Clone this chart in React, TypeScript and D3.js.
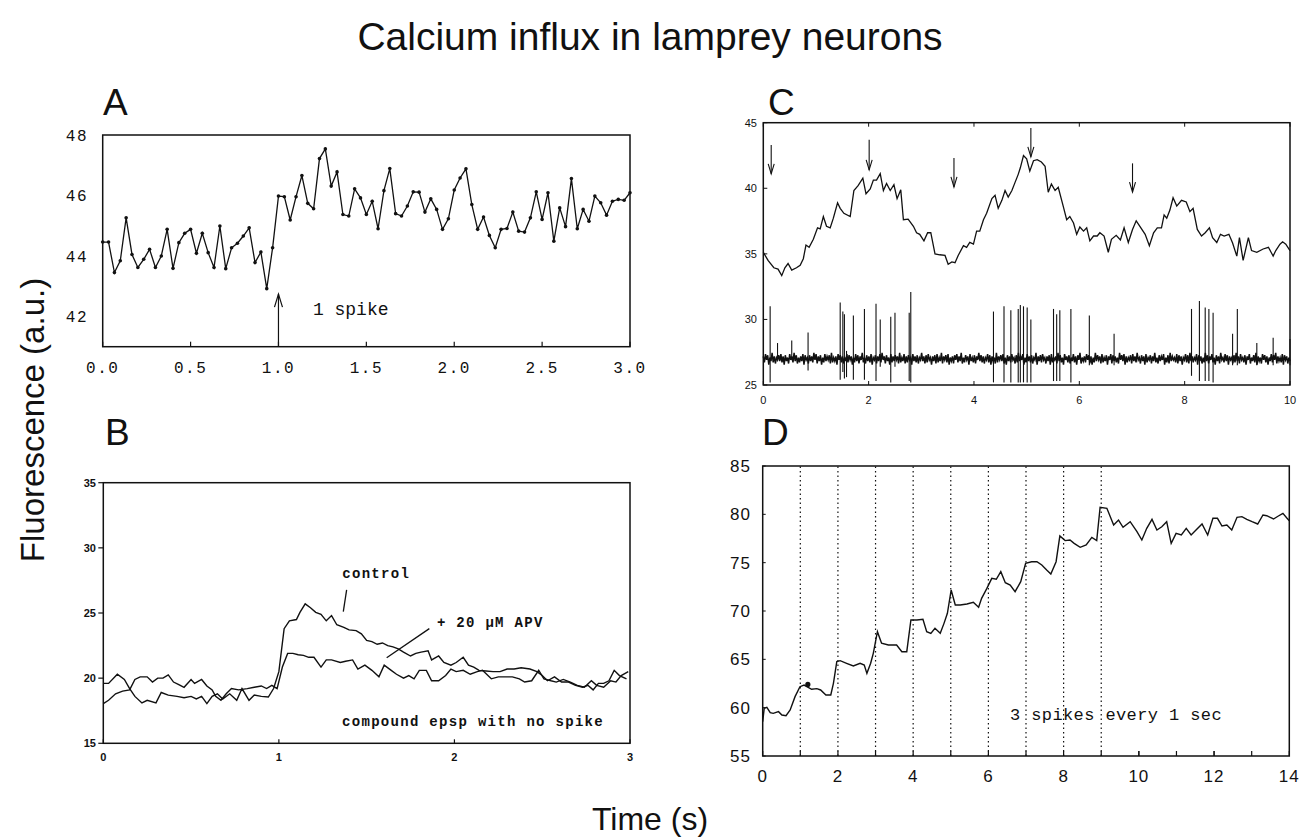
import React from 'react'
import * as d3 from 'd3'

// panel A: one spike, sampled at 30 Hz
const aValues = [44.46, 44.46, 43.45, 43.84, 45.26, 44.05, 43.62, 43.89, 44.22, 43.62,
  44.0, 44.88, 43.59, 44.44, 44.75, 44.88, 44.09, 44.75, 44.11, 43.62,
  44.99, 43.58, 44.27, 44.42, 44.66, 44.93, 43.78, 44.13, 42.92, 44.27,
  45.98, 45.96, 45.19, 45.96, 46.66, 45.74, 45.56, 47.22, 47.54, 46.31,
  46.78, 45.37, 45.32, 46.22, 45.92, 45.37, 45.81, 44.90, 46.16, 46.89,
  45.40, 45.32, 45.65, 46.12, 46.11, 45.45, 45.89, 45.54, 44.88, 45.23,
  46.18, 46.58, 46.88, 45.70, 44.88, 45.29, 44.68, 44.27, 44.88, 44.91,
  45.45, 44.82, 44.79, 45.26, 46.12, 45.21, 46.09, 44.49, 45.59, 44.97,
  46.56, 44.90, 45.54, 45.15, 45.98, 45.76, 45.35, 45.81, 45.87, 45.84, 46.09]
const aRate = 30
const aTicksX = [0, 0.5, 1, 1.5, 2, 2.5, 3]
const aTicksY = [42, 44, 46, 48]
const aSpikeTime = 1.0

// panel B: control vs + APV  [time, value]
const bControl = [[0, 19.6], [0.03, 19.6], [0.08, 20.3], [0.12, 19.9], [0.15, 19.2], [0.18, 18.6],
  [0.22, 18.1], [0.25, 18.3], [0.30, 18.1], [0.33, 18.9], [0.37, 18.7], [0.42, 18.6], [0.46, 18.5],
  [0.50, 18.6], [0.53, 18.4], [0.56, 18.6], [0.59, 18.05], [0.62, 18.6], [0.65, 18.8], [0.68, 18.4],
  [0.72, 18.8], [0.76, 18.3], [0.79, 19.2], [0.83, 18.3], [0.86, 18.7], [0.90, 18.6], [0.94, 18.55],
  [0.97, 19.2], [1.00, 20.5], [1.03, 23.8], [1.06, 24.4], [1.10, 24.5], [1.12, 25.05], [1.15, 25.7],
  [1.18, 25.4], [1.21, 25.05], [1.24, 24.9], [1.27, 24.4], [1.30, 24.8], [1.33, 24.1], [1.37, 23.9],
  [1.40, 23.7], [1.44, 23.65], [1.47, 23.4], [1.50, 22.9], [1.53, 22.8], [1.56, 22.6], [1.59, 22.7],
  [1.62, 22.5], [1.65, 22.4], [1.68, 22.25], [1.71, 22.0], [1.75, 21.7], [1.78, 21.9], [1.81, 22.0],
  [1.85, 22.1], [1.87, 21.4], [1.91, 21.7], [1.94, 21.2], [1.98, 21.0], [2.01, 21.2], [2.05, 21.6],
  [2.08, 21.0], [2.11, 20.85], [2.14, 20.6], [2.18, 20.55], [2.22, 20.5], [2.26, 20.5], [2.30, 20.7],
  [2.34, 20.7], [2.38, 20.8], [2.43, 20.7], [2.47, 20.5], [2.50, 20.2], [2.53, 19.8], [2.57, 20.1],
  [2.61, 19.7], [2.65, 19.7], [2.69, 19.45], [2.73, 19.3], [2.76, 19.45], [2.79, 19.1], [2.82, 19.6],
  [2.85, 19.6], [2.88, 19.8], [2.91, 20.6], [2.94, 20.2], [2.98, 19.95]]
const bApv = [[0, 18.05], [0.03, 18.3], [0.07, 18.8], [0.11, 19.0], [0.15, 19.1], [0.18, 19.9],
  [0.21, 20.1], [0.25, 20.1], [0.28, 19.7], [0.31, 20.0], [0.34, 20.0], [0.37, 20.25], [0.40, 19.7],
  [0.43, 19.5], [0.46, 19.3], [0.50, 19.9], [0.52, 19.6], [0.56, 19.9], [0.59, 19.4], [0.62, 19.1],
  [0.64, 18.6], [0.67, 18.3], [0.70, 18.8], [0.73, 19.2], [0.77, 19.1], [0.82, 19.2], [0.86, 19.3],
  [0.90, 19.4], [0.93, 19.2], [0.96, 19.45], [0.99, 19.2], [1.02, 20.85], [1.05, 21.9], [1.08, 21.9],
  [1.11, 21.8], [1.14, 21.75], [1.17, 21.6], [1.20, 21.6], [1.24, 20.85], [1.27, 21.4], [1.30, 21.4],
  [1.35, 21.2], [1.38, 21.3], [1.42, 21.4], [1.45, 20.7], [1.49, 21.0], [1.53, 20.6], [1.57, 20.1],
  [1.60, 21.0], [1.64, 20.6], [1.67, 20.3], [1.71, 20.0], [1.74, 20.2], [1.77, 19.95], [1.80, 20.6],
  [1.84, 20.6], [1.87, 19.8], [1.91, 19.8], [1.95, 20.2], [1.98, 20.7], [2.01, 20.5], [2.05, 20.6],
  [2.09, 20.3], [2.13, 20.5], [2.16, 20.6], [2.21, 19.95], [2.25, 20.1], [2.29, 20.1], [2.33, 20.1],
  [2.37, 19.95], [2.40, 19.7], [2.44, 19.8], [2.48, 20.6], [2.51, 19.95], [2.55, 19.8], [2.58, 19.7],
  [2.62, 19.9], [2.66, 19.7], [2.70, 19.45], [2.74, 19.3], [2.78, 19.8], [2.81, 19.45], [2.85, 19.3],
  [2.89, 19.8], [2.92, 19.7], [2.95, 20.2], [2.99, 20.5]]
const bTicksX = [0, 1, 2, 3]
const bTicksY = [15, 20, 25, 30, 35]

// panel C: fluorescence trace + membrane recording
const cTrace = [[0, 35.12], [0.09, 34.5], [0.2, 33.94], [0.28, 33.84], [0.35, 33.34], [0.41, 33.94],
  [0.47, 34.26], [0.54, 33.76], [0.63, 33.94], [0.7, 34.13], [0.76, 34.63], [0.81, 35.67], [0.87, 35.5],
  [0.95, 36.11], [1.03, 36.98], [1.08, 36.91], [1.14, 37.85], [1.2, 37.1], [1.27, 36.98], [1.33, 37.72],
  [1.41, 38.89], [1.46, 38.47], [1.53, 38.09], [1.65, 37.85], [1.72, 39.83], [1.8, 40.2], [1.89, 40.77],
  [1.95, 39.58], [2.03, 39.95], [2.09, 40.62], [2.15, 40.62], [2.22, 41.11], [2.28, 39.83], [2.34, 40.37],
  [2.41, 39.83], [2.48, 40.27], [2.54, 39.21], [2.61, 39.88], [2.66, 37.6], [2.75, 37.65], [2.85, 37.1],
  [2.91, 36.61], [2.97, 36.49], [3.05, 35.99], [3.12, 36.61], [3.18, 36.61], [3.26, 35.0], [3.35, 34.93],
  [3.45, 34.88], [3.51, 34.21], [3.58, 34.38], [3.64, 34.33], [3.7, 34.88], [3.8, 35.62], [3.86, 35.5],
  [3.92, 35.87], [3.99, 35.74], [4.05, 36.73], [4.11, 36.73], [4.18, 37.6], [4.24, 38.09], [4.34, 39.21],
  [4.4, 39.46], [4.46, 38.47], [4.53, 39.08], [4.59, 39.83], [4.65, 39.33], [4.72, 39.83], [4.78, 40.45],
  [4.84, 41.06], [4.88, 41.56], [4.94, 42.5], [5.0, 42.25], [5.06, 41.31], [5.13, 42.1], [5.2, 42.18],
  [5.28, 42.0], [5.35, 41.68], [5.41, 39.7], [5.47, 40.32], [5.54, 39.83], [5.6, 40.07], [5.7, 38.54],
  [5.76, 37.6], [5.82, 37.85], [5.89, 37.35], [5.95, 36.49], [6.01, 37.05], [6.08, 36.73], [6.14, 36.98],
  [6.2, 35.99], [6.27, 36.36], [6.34, 36.36], [6.39, 36.61], [6.47, 36.36], [6.55, 35.12], [6.61, 36.11],
  [6.7, 36.41], [6.78, 36.06], [6.85, 36.98], [6.93, 35.87], [7.01, 36.86], [7.08, 37.52], [7.15, 37.1],
  [7.25, 36.49], [7.33, 35.62], [7.41, 36.61], [7.48, 36.98], [7.56, 36.98], [7.61, 37.97], [7.66, 37.72],
  [7.72, 38.34], [7.78, 39.28], [7.85, 38.64], [7.94, 39.08], [8.03, 38.96], [8.1, 38.22], [8.16, 38.47],
  [8.24, 36.86], [8.32, 36.36], [8.39, 36.61], [8.47, 36.98], [8.53, 36.24], [8.61, 35.87], [8.68, 36.49],
  [8.75, 36.36], [8.84, 36.49], [8.91, 35.82], [8.99, 34.83], [9.04, 36.24], [9.11, 34.5], [9.21, 36.24],
  [9.27, 35.25], [9.37, 35.12], [9.49, 35.37], [9.59, 35.5], [9.68, 34.83], [9.73, 35.25], [9.81, 35.74],
  [9.86, 35.92], [9.92, 35.74], [10.0, 35.25]]
// [time, top, bottom] of each spike / large deflection
const cSpikes = [[0.13, 31.0, 25.2], [0.27, 28.2, 27], [0.54, 28.4, 27], [0.85, 29.0, 26.1],
  [1.46, 31.3, 25.4], [1.51, 30.6, 26.0], [1.54, 30.4, 25.5], [1.58, 27.6, 25.6], [1.71, 30.3, 25.4],
  [1.92, 30.8, 25.4], [2.14, 31.2, 25.3], [2.22, 30.0, 26.4], [2.42, 30.2, 25.2], [2.50, 30.5, 26.4],
  [2.77, 30.5, 25.3], [2.80, 32.1, 25.2], [4.37, 30.6, 25.2], [4.57, 31.0, 25.2], [4.70, 30.7, 25.2],
  [4.84, 30.8, 25.2], [4.88, 31.1, 25.2], [4.94, 31.0, 25.2], [5.01, 30.9, 25.2], [5.08, 30.0, 25.2],
  [5.51, 30.8, 25.3], [5.57, 30.4, 25.3], [5.63, 30.7, 25.3], [5.84, 30.8, 25.2], [6.19, 30.3, 26.5],
  [6.66, 28.9, 26.5], [8.13, 30.8, 25.7], [8.28, 31.4, 25.3], [8.39, 30.9, 25.3], [8.46, 30.8, 25.3],
  [8.54, 30.5, 25.2], [8.91, 28.9, 26.5], [9.00, 30.8, 26.5], [9.37, 28.2, 26.5], [9.68, 28.6, 26.5],
  [10.0, 28.5, 26.5]]
const cBaseline = 27.0
const cNoiseUnit = 0.09
// recording noise around the baseline, in noise units
const cNoise = [2, -3, 4, -1, 3, -5, 1, -2, 5, -3, 2, -4, 1, -1, 3, -2, 4, -3, 2, -5, 3, -2, 1, -4, 4, -1, 2, -3, 5, -2, 3, -4, 1, -3, 2, -2, 4, -5, 3, -1,
  1, -4, 3, -2, 2, -3, 5, -1, 4, -4, 2, -2, 3, -5, 1, -3, 4, -2, 2, -1, 3, -4, 5, -3, 1, -2, 2, -5, 4, -1, 3, -3, 2, -4, 1, -2, 4, -3, 3, -1,
  2, -5, 1, -3, 4, -2, 3, -4, 2, -1, 5, -3, 1, -4, 3, -2, 2, -3, 4, -5, 1, -1, 3, -4, 2, -2, 4, -3, 5, -1, 2, -4, 3, -2, 1, -5, 4, -3, 2, -2,
  3, -1, 2, -4, 5, -3, 1, -2, 4, -4, 2, -3, 3, -1, 1, -5, 4, -2, 2, -3, 3, -4, 1, -1, 5, -2, 2, -4, 3, -3, 4, -1, 1, -5, 2, -2, 3, -4, 4, -3,
  1, -2, 5, -4, 2, -1, 3, -3, 4, -5, 1, -2, 2, -4, 3, -1, 4, -3, 2, -2, 5, -4, 1, -3, 3, -1, 2, -5, 4, -2, 1, -3, 3, -4, 2, -1, 5, -2, 3, -3,
  2, -4, 1, -1, 4, -3, 3, -5, 2, -2, 1, -4, 5, -3, 2, -1, 3, -2, 4, -4, 1, -5, 3, -2, 2, -3, 4, -1, 1, -4, 3, -3, 5, -2, 2, -1, 4, -5, 1, -3,
  4, -2, 2, -3, 3, -4, 1, -1, 5, -5, 2, -2, 3, -3, 4, -1, 1, -4, 2, -2, 3, -5, 4, -3, 1, -1, 2, -4, 5, -2, 3, -3, 1, -5, 4, -1, 2, -3, 3, -4,
  1, -2, 4, -3, 2, -5, 3, -1, 5, -4, 1, -2, 2, -3, 4, -1, 3, -4, 2, -5, 1, -3, 5, -2, 3, -1, 2, -4, 4, -3, 1, -2, 3, -5, 2, -1, 4, -4, 3, -2,
  2, -3, 1, -4, 5, -1, 3, -2, 4, -5, 2, -3, 1, -1, 3, -4, 4, -2, 2, -3, 5, -1, 1, -4, 3, -2, 2, -5, 4, -3, 1, -1, 3, -4, 2, -2, 5, -3, 1, -4,
  3, -2, 2, -1, 4, -5, 1, -3, 3, -4, 5, -2, 2, -1, 1, -3, 4, -4, 3, -2, 2, -5, 1, -1, 4, -3, 3, -4, 5, -2, 2, -3, 1, -1, 4, -5, 3, -2, 2, -4,
  1, -3, 5, -2, 3, -4, 2, -1, 4, -3, 1, -5, 3, -2, 2, -4, 5, -1, 1, -3, 4, -2, 3, -5, 2, -1, 1, -4, 3, -3, 5, -2, 2, -4, 4, -1, 1, -3, 3, -5,
  2, -1, 4, -4, 1, -2, 3, -3, 5, -5, 2, -2, 1, -4, 4, -1, 3, -3, 2, -5, 1, -2, 4, -3, 3, -1, 5, -4, 2, -2, 1, -3, 4, -5, 3, -1, 2, -4, 1, -2]
// [time, from, to] of the stimulus arrows
const cArrows = [[0.15, 43.3, 41.1], [2.01, 43.7, 41.4], [3.62, 42.3, 40.1], [5.08, 44.6, 42.4], [7.01, 41.9, 39.7]]
const cTicksX = [0, 2, 4, 6, 8, 10]
const cTicksY = [25, 30, 35, 40, 45]

// panel D: 3 spikes every second
const dTrace = [[0, 58.55], [0.04, 59.93], [0.11, 60.03], [0.2, 59.48], [0.28, 59.41], [0.42, 59.59],
  [0.51, 59.24], [0.62, 59.17], [0.73, 59.76], [0.86, 61.14], [0.99, 62.17], [1.1, 62.34], [1.21, 62.1],
  [1.3, 61.9], [1.44, 61.97], [1.54, 61.83], [1.68, 61.31], [1.81, 61.31], [1.88, 62.52], [1.97, 64.76],
  [2.06, 64.86], [2.23, 64.59], [2.41, 64.31], [2.59, 64.59], [2.7, 64.41], [2.77, 63.55], [2.87, 64.59],
  [2.94, 65.62], [3.05, 67.86], [3.16, 66.66], [3.34, 66.48], [3.56, 66.48], [3.7, 65.79], [3.83, 65.79],
  [3.94, 69.07], [4.1, 69.07], [4.26, 69.14], [4.36, 67.86], [4.47, 67.69], [4.58, 68.21], [4.72, 67.69],
  [4.82, 68.72], [4.91, 69.76], [5.01, 72.17], [5.12, 70.62], [5.25, 70.62], [5.43, 70.72], [5.6, 70.9],
  [5.74, 70.38], [5.82, 71.31], [5.96, 72.34], [6.09, 73.38], [6.21, 73.28], [6.33, 74.07], [6.45, 72.93],
  [6.58, 72.69], [6.71, 72.0], [6.86, 73.03], [6.99, 74.93], [7.15, 75.1], [7.29, 75.1], [7.42, 74.76],
  [7.55, 74.24], [7.66, 73.83], [7.8, 75.1], [7.9, 77.76], [8.04, 77.28], [8.17, 77.34], [8.28, 77.0],
  [8.44, 76.59], [8.6, 76.83], [8.75, 77.62], [8.88, 77.28], [8.97, 80.72], [9.15, 80.62], [9.33, 78.9],
  [9.46, 79.41], [9.58, 78.66], [9.77, 79.24], [9.95, 78.21], [10.08, 77.34], [10.21, 78.55], [10.35, 79.48],
  [10.48, 78.38], [10.61, 78.72], [10.74, 79.24], [10.86, 77.0], [10.99, 78.03], [11.13, 77.86], [11.26, 78.55],
  [11.39, 77.86], [11.52, 78.38], [11.68, 79.0], [11.83, 77.86], [11.97, 79.59], [12.09, 79.59], [12.21, 78.79],
  [12.34, 78.9], [12.47, 78.38], [12.61, 79.69], [12.74, 79.76], [12.87, 79.48], [13.01, 79.24], [13.16, 79.0],
  [13.3, 79.93], [13.4, 79.86], [13.58, 79.52], [13.71, 79.83], [13.83, 80.1], [13.94, 79.59], [14.0, 79.34]]
const dStimuli = [1, 2, 3, 4, 5, 6, 7, 8, 9]
const dMarker = [1.2, 62.4]
const dTicksX = [0, 2, 4, 6, 8, 10, 12, 14]
const dMinorX = [1, 3, 5, 7, 9, 10, 11, 12, 13]
const dTicksY = [55, 60, 65, 70, 75, 80, 85]

const sans = 'Liberation Sans, Arial, Helvetica, sans-serif'
const mono = 'Liberation Mono, Courier New, monospace'
const ink = '#111'

const ax = d3.scaleLinear().domain([0, 3]).range([102.7, 630])
const ay = d3.scaleLinear().domain([41, 48]).range([346.7, 135])
const bx = d3.scaleLinear().domain([0, 3]).range([103.3, 630])
const by = d3.scaleLinear().domain([15, 35]).range([743.3, 482.7])
const cx = d3.scaleLinear().domain([0, 10]).range([763.3, 1290])
const cy = d3.scaleLinear().domain([25, 45]).range([385, 122.7])
const dx = d3.scaleLinear().domain([0, 14]).range([762.7, 1289.3])
const dy = d3.scaleLinear().domain([55, 85]).range([756, 466])

function Frame({ x, y }: any) {
  const [x0, x1] = x.range()
  const [y0, y1] = y.range()
  return <rect x={x0} y={y1} width={x1 - x0} height={y0 - y1} fill="none" stroke={ink} strokeWidth={1.5} />
}

export default function App() {
  const aLine = d3.line<number>().x((_, i) => ax(i / aRate)).y(d => ay(d))
  const bLine = d3.line<number[]>().x(d => bx(d[0])).y(d => by(d[1]))
  const cLine = d3.line<number[]>().x(d => cx(d[0])).y(d => cy(d[1]))
  const cNoiseLine = d3.line<number>()
    .x((_, i) => cx(i * 10 / (cNoise.length - 1)))
    .y(d => cy(cBaseline + d * cNoiseUnit))
  const dLine = d3.line<number[]>().x(d => dx(d[0])).y(d => dy(d[1]))
  const fmt1 = d3.format('.1f')

  return (
    <svg width={1300} height={839} style={{ position: 'absolute', left: 0, top: 0, background: '#fff' }}>
      <text x={650} y={50} textAnchor="middle" fontFamily={sans} fontSize={39} fill={ink}>Calcium influx in lamprey neurons</text>
      <text transform="translate(44,420) rotate(-90)" textAnchor="middle" fontFamily={sans} fontSize={33} fill={ink}>Fluorescence (a.u.)</text>
      <text x={650} y={830} textAnchor="middle" fontFamily={sans} fontSize={32} fill={ink}>Time (s)</text>

      <g fontFamily={sans} fontSize={37} fill={ink}>
        <text x={103} y={115}>A</text>
        <text x={105} y={445}>B</text>
        <text x={768} y={115}>C</text>
        <text x={762} y={445}>D</text>
      </g>

      {/* A */}
      <g>
        <Frame x={ax} y={ay} />
        {aTicksX.map(t => (
          <g key={t}>
            <line x1={ax(t)} x2={ax(t)} y1={ay(41)} y2={ay(41) - 5} stroke={ink} strokeWidth={1.2} />
            <text x={ax(t)} y={373} textAnchor="middle" fontFamily={mono} fontSize={16} letterSpacing={1.5} fill={ink}>{fmt1(t)}</text>
          </g>
        ))}
        {aTicksY.map(v => (
          <text key={v} x={88} y={ay(v) + 6} textAnchor="end" fontFamily={mono} fontSize={16} letterSpacing={1.5} fill={ink}>{v}</text>
        ))}
        <path d={aLine(aValues) || ''} fill="none" stroke={ink} strokeWidth={1.3} />
        {aValues.map((v, i) => <circle key={i} cx={ax(i / aRate)} cy={ay(v)} r={1.8} fill={ink} />)}
        <line x1={ax(aSpikeTime)} x2={ax(aSpikeTime)} y1={ay(41)} y2={ay(42.74)} stroke={ink} strokeWidth={1.2} />
        <polyline points={`${ax(aSpikeTime) - 4},${ay(42.74) + 13} ${ax(aSpikeTime)},${ay(42.74)} ${ax(aSpikeTime) + 4},${ay(42.74) + 13}`} fill="none" stroke={ink} strokeWidth={1.2} />
        <text x={ax(1.196)} y={ay(42.05)} fontFamily={mono} fontSize={18} fill={ink}>1 spike</text>
      </g>

      {/* B */}
      <g>
        <Frame x={bx} y={by} />
        {bTicksY.map(v => (
          <g key={v}>
            <line x1={bx(0) - 5} x2={bx(0)} y1={by(v)} y2={by(v)} stroke={ink} strokeWidth={1.2} />
            <text x={96} y={by(v) + 4} textAnchor="end" fontFamily={sans} fontWeight="bold" fontSize={11} fill={ink}>{v}</text>
          </g>
        ))}
        {bTicksX.map(t => (
          <g key={t}>
            <line x1={bx(t)} x2={bx(t)} y1={by(15)} y2={by(15) - 4} stroke={ink} strokeWidth={1.2} />
            <text x={bx(t)} y={761} textAnchor="middle" fontFamily={sans} fontWeight="bold" fontSize={11} fill={ink}>{t}</text>
          </g>
        ))}
        <path d={bLine(bControl) || ''} fill="none" stroke={ink} strokeWidth={1.4} />
        <path d={bLine(bApv) || ''} fill="none" stroke={ink} strokeWidth={1.4} />
        <g fontFamily={mono} fontWeight="bold" fontSize={14} letterSpacing={1.3} fill={ink}>
          <text x={bx(1.361)} y={by(27.69)}>control</text>
          <text x={bx(1.90)} y={by(23.93)}>+ 20 μM APV</text>
          <text x={bx(1.36)} y={by(16.33)}>compound epsp with no spike</text>
        </g>
        <line x1={bx(1.386)} y1={by(26.77)} x2={bx(1.367)} y2={by(25.1)} stroke={ink} strokeWidth={1.3} />
        <line x1={bx(1.857)} y1={by(23.8)} x2={bx(1.614)} y2={by(21.56)} stroke={ink} strokeWidth={1.3} />
      </g>

      {/* C */}
      <g>
        <Frame x={cx} y={cy} />
        {cTicksY.map(v => (
          <g key={v}>
            <line x1={cx(0)} x2={cx(0) + 4} y1={cy(v)} y2={cy(v)} stroke={ink} strokeWidth={1} />
            <text x={757} y={cy(v) + 4} textAnchor="end" fontFamily={sans} fontSize={11} fill={ink}>{v}</text>
          </g>
        ))}
        {cTicksX.map(t => (
          <g key={t}>
            <line x1={cx(t)} x2={cx(t)} y1={cy(25)} y2={cy(25) - 4} stroke={ink} strokeWidth={1} />
            <line x1={cx(t)} x2={cx(t)} y1={cy(45)} y2={cy(45) + 4} stroke={ink} strokeWidth={1} />
            <text x={cx(t)} y={404} textAnchor="middle" fontFamily={sans} fontSize={11} fill={ink}>{t}</text>
          </g>
        ))}
        <path d={cNoiseLine(cNoise) || ''} fill="none" stroke={ink} strokeWidth={1.5} />
        {cSpikes.map(([t, top, bot], i) => (
          <line key={i} x1={cx(t)} x2={cx(t)} y1={cy(top)} y2={cy(bot)} stroke={ink} strokeWidth={1.1} />
        ))}
        <path d={cLine(cTrace) || ''} fill="none" stroke={ink} strokeWidth={1.3} />
        {cArrows.map(([t, from, to], i) => (
          <g key={i} stroke={ink} strokeWidth={1.1} fill="none">
            <line x1={cx(t)} x2={cx(t)} y1={cy(from)} y2={cy(to)} />
            <polyline points={`${cx(t) - 3},${cy(to) - 10} ${cx(t)},${cy(to)} ${cx(t) + 3},${cy(to) - 10}`} />
          </g>
        ))}
      </g>

      {/* D */}
      <g>
        <Frame x={dx} y={dy} />
        {dStimuli.map(t => (
          <line key={t} x1={dx(t)} x2={dx(t)} y1={dy(55)} y2={dy(85)} stroke={ink} strokeWidth={1.2} strokeDasharray="1.5 3" />
        ))}
        {dMinorX.concat(dTicksX).map((t, i) => (
          <line key={i} x1={dx(t)} x2={dx(t)} y1={dy(55)} y2={dy(55) - 5} stroke={ink} strokeWidth={1.2} />
        ))}
        {dTicksX.map(t => (
          <text key={t} x={dx(t)} y={782} textAnchor="middle" fontFamily={sans} fontSize={17} letterSpacing={1} fill={ink}>{t}</text>
        ))}
        {dTicksY.map(v => (
          <g key={v}>
            <line x1={dx(0)} x2={dx(0) + 3} y1={dy(v)} y2={dy(v)} stroke={ink} strokeWidth={1} />
            <text x={751} y={dy(v) + 6} textAnchor="end" fontFamily={sans} fontSize={17} letterSpacing={1} fill={ink}>{v}</text>
          </g>
        ))}
        <path d={dLine(dTrace) || ''} fill="none" stroke={ink} strokeWidth={1.4} />
        <circle cx={dx(dMarker[0])} cy={dy(dMarker[1])} r={2.6} fill={ink} />
        <text x={dx(6.575)} y={dy(58.72)} fontFamily={mono} fontSize={17} letterSpacing={0.4} fill={ink}>3 spikes every 1 sec</text>
      </g>
    </svg>
  )
}
